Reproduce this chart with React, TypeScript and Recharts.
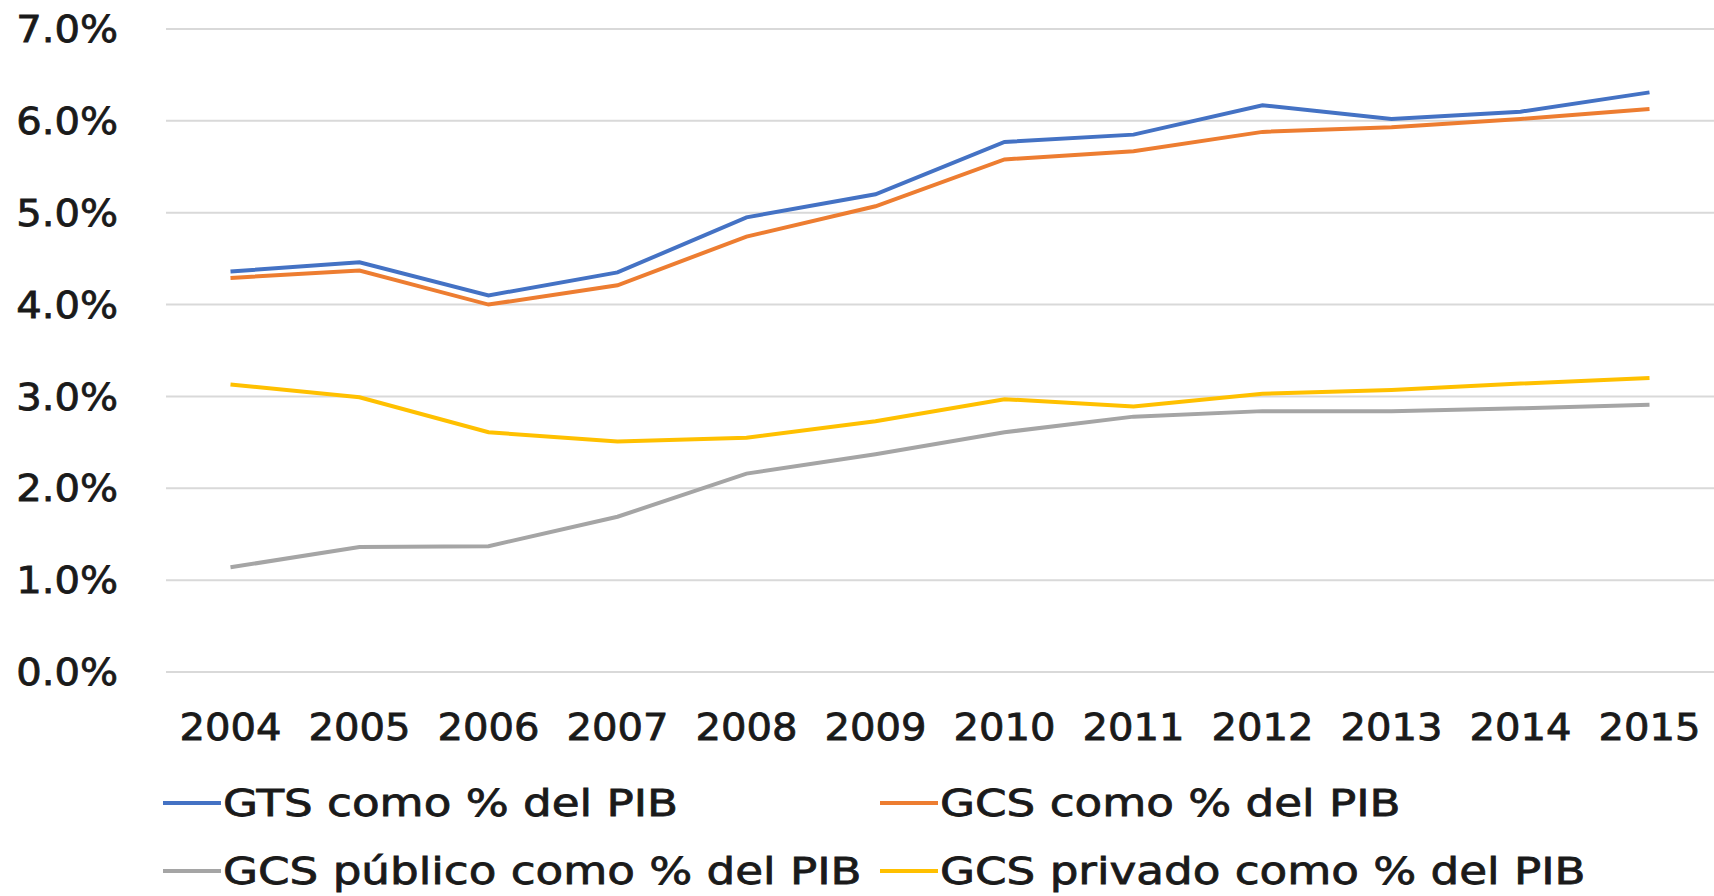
import React from "react";
import {
  CartesianGrid,
  Line,
  LineChart,
  XAxis,
  YAxis,
} from "recharts";

const years = ["2004", "2005", "2006", "2007", "2008", "2009", "2010", "2011", "2012", "2013", "2014", "2015"];
const gtsPib = [4.36, 4.46, 4.1, 4.35, 4.95, 5.2, 5.77, 5.85, 6.17, 6.02, 6.1, 6.31];
const gcsPib = [4.29, 4.37, 4.0, 4.21, 4.74, 5.07, 5.58, 5.67, 5.88, 5.93, 6.02, 6.13];
const gcsPublico = [1.14, 1.36, 1.37, 1.69, 2.16, 2.37, 2.61, 2.78, 2.84, 2.84, 2.87, 2.91];
const gcsPrivado = [3.13, 2.99, 2.61, 2.51, 2.55, 2.73, 2.97, 2.89, 3.03, 3.07, 3.14, 3.2];
const yTicks = [0, 1, 2, 3, 4, 5, 6, 7];

const series = [
  { key: "gts", name: "GTS como % del PIB", color: "#4472C4" },
  { key: "gcs", name: "GCS como % del PIB", color: "#ED7D31" },
  { key: "publico", name: "GCS público como % del PIB", color: "#A5A5A5" },
  { key: "privado", name: "GCS privado como % del PIB", color: "#FFC000" },
];

const data = years.map((year, i) => ({
  year,
  gts: gtsPib[i],
  gcs: gcsPib[i],
  publico: gcsPublico[i],
  privado: gcsPrivado[i],
}));

const FONT = "'DejaVu Sans', sans-serif";
const TEXT = "#1a1a1a";
const FONT_SIZE = 38;

const Label = ({ x, y, anchor, stretch = 1.055, children }: any) => (
  <g transform={`translate(${x},${y})`}>
    <text
      transform={`scale(${stretch},1)`}
      textAnchor={anchor}
      dominantBaseline="central"
      fontFamily={FONT}
      fontSize={FONT_SIZE}
      fill={TEXT}
      stroke={TEXT}
      strokeWidth={0.8}
    >
      {children}
    </text>
  </g>
);

const XTick = (props: any) => (
  <Label x={props.x} y={props.y} anchor="middle">
    {props.payload.value}
  </Label>
);

const YTick = (props: any) => (
  <Label x={props.x} y={props.y} anchor="end">
    {`${Number(props.payload.value).toFixed(1)}%`}
  </Label>
);

const ChartLegend = () => {
  const colX = [163, 880];
  const rowY = [803, 871];
  return (
    <svg width={1714} height={896} style={{ position: "absolute", left: 0, top: 0, pointerEvents: "none" }}>
      {series.map((s, i) => {
        const x = colX[i % 2];
        const y = rowY[Math.floor(i / 2)];
        return (
          <g key={s.key}>
            <line x1={x} y1={y} x2={x + 58} y2={y} stroke={s.color} strokeWidth={4} />
            <Label x={x + 60} y={y} anchor="start" stretch={1.19}>
              {s.name}
            </Label>
          </g>
        );
      })}
    </svg>
  );
};

export default function App() {
  return (
    <div style={{ position: "absolute", left: 0, top: 0, width: 1714, height: 896, background: "#fff" }}>
      <LineChart width={1714} height={896} data={data} margin={{ top: 29, right: 0, bottom: 194, left: 0 }}>
        <CartesianGrid vertical={false} stroke="#d9d9d9" strokeWidth={2} />
        <XAxis
          dataKey="year"
          height={30}
          axisLine={false}
          tickLine={false}
          tickSize={0}
          tickMargin={55}
          interval={0}
          padding={{ left: 64.5, right: 64.5 }}
          tick={<XTick />}
        />
        <YAxis
          width={166}
          domain={[0, 7]}
          ticks={yTicks}
          axisLine={false}
          tickLine={false}
          tickSize={0}
          tickMargin={48}
          tick={<YTick />}
        />
        {series.map((s) => (
          <Line
            key={s.key}
            dataKey={s.key}
            name={s.name}
            stroke={s.color}
            strokeWidth={4}
            dot={false}
            isAnimationActive={false}
          />
        ))}
      </LineChart>
      <ChartLegend />
    </div>
  );
}
